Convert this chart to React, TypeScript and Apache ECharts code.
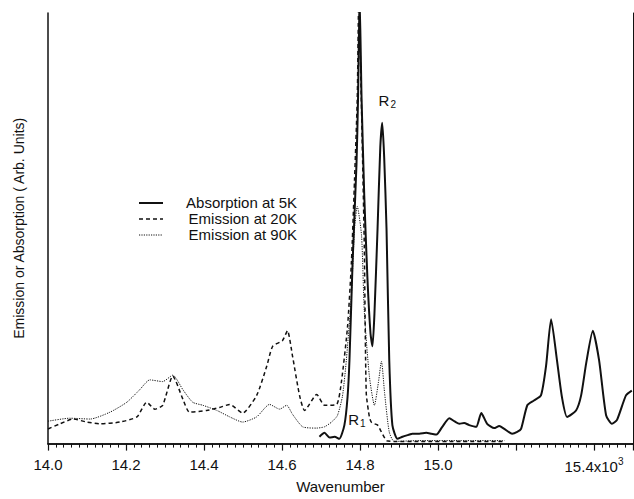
import React, { useEffect, useRef } from "react";
import * as echarts from "echarts";

// Wavenumber (x10^3 cm^-1), intensity (arb. units, 0-100 = full plot height)
const absorption5K: [number, number][] = [
  [14.696, 1.6], [14.709, 2.5], [14.722, 1.4], [14.735, 1.6], [14.747, 1.1], [14.760, 4.3],
  [14.768, 10.7], [14.773, 19.4], [14.781, 42.1], [14.791, 64.9], [14.795, 80.2], [14.799, 104],
  [14.804, 80.2], [14.811, 57.4], [14.819, 38.5], [14.827, 25.5], [14.832, 22.6], [14.837, 30.1],
  [14.845, 49.9], [14.852, 68.8], [14.857, 74.5], [14.862, 66.5], [14.868, 49.9], [14.875, 19.4],
  [14.883, 4.3], [14.896, 1.1], [14.909, 1.6], [14.927, 2.1], [14.934, 2.3],
  [14.952, 2.3], [14.970, 2.5], [14.983, 2.3], [14.996, 2.1], [15.011, 3.9], [15.029, 5.9],
  [15.042, 5.2], [15.055, 4.6], [15.067, 4.8], [15.080, 4.3], [15.098, 3.9], [15.111, 7.1],
  [15.126, 4.6], [15.144, 3.6], [15.157, 4.1], [15.170, 3.4], [15.190, 2.3], [15.203, 2.7],
  [15.213, 3.4], [15.229, 8.9], [15.246, 10.0], [15.264, 11.2], [15.277, 18.0], [15.290, 28.9],
  [15.305, 19.4], [15.318, 10.7], [15.331, 6.2], [15.354, 7.7], [15.367, 11.2], [15.380, 18.7],
  [15.397, 26.2], [15.413, 19.4], [15.431, 6.6], [15.446, 4.6], [15.459, 5.5], [15.482, 11.2],
  [15.497, 12.3],
];

const emission20K: [number, number][] = [
  [14.000, 3.4], [14.031, 4.6], [14.064, 5.7], [14.100, 5.0], [14.133, 4.6], [14.184, 5.0],
  [14.228, 6.2], [14.253, 9.6], [14.274, 8.0], [14.294, 8.9], [14.320, 15.7], [14.346, 10.3],
  [14.363, 7.3], [14.407, 7.7], [14.440, 8.4], [14.466, 9.1], [14.499, 7.1], [14.535, 11.2],
  [14.561, 18.0], [14.576, 22.6], [14.601, 23.9], [14.614, 26.2], [14.627, 20.3], [14.645, 11.2],
  [14.658, 7.7], [14.689, 11.4], [14.709, 8.9], [14.740, 9.1], [14.752, 14.1], [14.768, 27.1],
  [14.778, 42.1], [14.786, 61.3], [14.793, 80.2], [14.797, 104], [14.801, 89.3], [14.806, 68.8],
  [14.811, 46.0], [14.816, 11.8], [14.824, 6.2], [14.829, 5.0], [14.837, 4.6], [14.845, 4.3],
  [14.855, 2.7], [14.868, 0.7], [14.888, 0.5], [14.950, 0.5], [15.060, 0.5], [15.170, 0.5],
];

const emission90K: [number, number][] = [
  [14.000, 5.2], [14.056, 5.9], [14.108, 5.7], [14.159, 7.3], [14.202, 9.6], [14.235, 12.5],
  [14.261, 14.8], [14.294, 14.4], [14.320, 15.9], [14.346, 12.5], [14.371, 9.6], [14.397, 8.9],
  [14.433, 7.7], [14.466, 6.2], [14.499, 5.0], [14.535, 6.2], [14.568, 9.1], [14.594, 8.0],
  [14.612, 8.9], [14.627, 6.8], [14.653, 3.9], [14.689, 3.6], [14.709, 3.9], [14.727, 5.0],
  [14.742, 6.5], [14.755, 11.0], [14.765, 19.4], [14.778, 34.6], [14.786, 49.9], [14.793, 55.1],
  [14.804, 48.3], [14.811, 30.8], [14.824, 15.7], [14.837, 8.9], [14.847, 14.1], [14.855, 19.1],
  [14.863, 11.8], [14.875, 2.7], [14.888, 0.5], [14.952, 0.7], [15.055, 0.7], [15.170, 0.7],
];

const seriesNames = ["Absorption at 5K", "Emission at 20K", "Emission at 90K"];
const xTickLabels: Record<string, string> = {
  "14.0": "14.0", "14.2": "14.2", "14.4": "14.4", "14.6": "14.6",
  "14.8": "14.8", "15.0": "15.0", "15.2": "", "15.4": "{n|15.4x10}{sup|3}", "15.5": "",
};
const peakLabels: { name: string; coord: [number, number] }[] = [
  { name: "{r|R}{s|2}", coord: [14.870, 79.7] },
  { name: "{r|R}{s|1}", coord: [14.792, 5.5] },
];

const FONT = "'Liberation Sans', Arial, Helvetica, sans-serif";
const INK = "#111";

export default function App() {
  const ref = useRef<HTMLDivElement>(null);
  useEffect(() => {
    if (!ref.current) return;
    const chart = echarts.init(ref.current, undefined, { renderer: "svg" });
    const legendY = [202, 218, 234];
    const legendDash: any[] = [null, [4, 3], [1.2, 1.2]];
    const legendWidth = [2, 1.5, 1];
    const graphic: any[] = [];
    seriesNames.forEach((n, i) => {
      graphic.push({
        type: "line",
        shape: { x1: 139, y1: legendY[i] + 1, x2: 163, y2: legendY[i] + 1 },
        style: { stroke: INK, lineWidth: legendWidth[i], lineDash: legendDash[i] },
      });
      graphic.push({
        type: "text",
        x: 297,
        y: legendY[i],
        style: { text: n, font: `15px ${FONT}`, fill: INK, align: "right", verticalAlign: "middle" },
      });
    });
    chart.setOption({
      animation: false,
      backgroundColor: "#fff",
      textStyle: { fontFamily: FONT, color: INK },
      grid: { left: 48, right: 1, top: 13, bottom: 47, containLabel: false },
      xAxis: [
        {
          type: "value",
          min: 14.0,
          max: 15.5,
          interval: 0.2,
          position: "bottom",
          axisLine: { show: true, lineStyle: { color: INK, width: 1.5 } },
          axisTick: { show: true, length: 7, lineStyle: { color: INK, width: 1.2 } },
          minorTick: { show: true, splitNumber: 10, length: 4, lineStyle: { color: INK, width: 1 } },
          splitLine: { show: false },
          axisLabel: {
            fontSize: 15,
            fontFamily: FONT,
            color: INK,
            margin: 13,
            showMaxLabel: false,
            formatter: (v: number) => {
              const k = (Math.round(v * 10) / 10).toFixed(1);
              return k in xTickLabels ? xTickLabels[k] : k;
            },
            rich: {
              n: { fontSize: 15, fontFamily: FONT, color: INK },
              sup: { fontSize: 10, fontFamily: FONT, color: INK, verticalAlign: "top", padding: [0, 0, 10, 0] },
            },
          },
          name: "Wavenumber",
          nameLocation: "middle",
          nameGap: 33,
          nameTextStyle: { fontSize: 15, fontFamily: FONT, color: INK },
        },
        {
          type: "value",
          min: 14.0,
          max: 15.5,
          position: "top",
          axisLine: { show: true, lineStyle: { color: INK, width: 1.5 } },
          axisTick: { show: false },
          axisLabel: { show: false },
          splitLine: { show: false },
        },
      ],
      yAxis: [
        {
          type: "value",
          min: 0,
          max: 100,
          axisLine: { show: true, lineStyle: { color: INK, width: 1.5 } },
          axisTick: { show: false },
          axisLabel: { show: false },
          splitLine: { show: false },
          name: "Emission or Absorption ( Arb. Units)",
          nameLocation: "middle",
          nameGap: 22,
          nameTextStyle: { fontSize: 14, fontFamily: FONT, color: INK },
        },
        {
          type: "value",
          min: 0,
          max: 100,
          position: "right",
          axisLine: { show: true, lineStyle: { color: INK, width: 1 } },
          axisTick: { show: false },
          axisLabel: { show: false },
          splitLine: { show: false },
        },
      ],
      series: [
        {
          name: seriesNames[0],
          type: "line",
          data: absorption5K,
          showSymbol: false,
          smooth: 0.2,
          lineStyle: { color: INK, width: 2 },
          markPoint: {
            symbol: "circle",
            symbolSize: 0,
            label: {
              show: true,
              position: "inside",
              formatter: (p: any) => p.name,
              rich: {
                r: { fontSize: 15, fontFamily: FONT, color: INK },
                s: { fontSize: 10, fontFamily: FONT, color: INK, verticalAlign: "bottom", padding: [8, 0, 0, 1] },
              },
            },
            data: peakLabels.map((p) => ({ name: p.name, coord: p.coord })),
          },
        },
        {
          name: seriesNames[1],
          type: "line",
          data: emission20K,
          showSymbol: false,
          smooth: 0.2,
          lineStyle: { color: INK, width: 1.5, type: [4, 3] },
        },
        {
          name: seriesNames[2],
          type: "line",
          data: emission90K,
          showSymbol: false,
          smooth: 0.2,
          lineStyle: { color: INK, width: 1, type: [1.2, 1.2] },
        },
      ],
      graphic,
    });
    return () => chart.dispose();
  }, []);
  return (
    <div
      ref={ref}
      style={{ position: "fixed", left: 0, top: 0, width: 634, height: 499, background: "#fff" }}
    />
  );
}
